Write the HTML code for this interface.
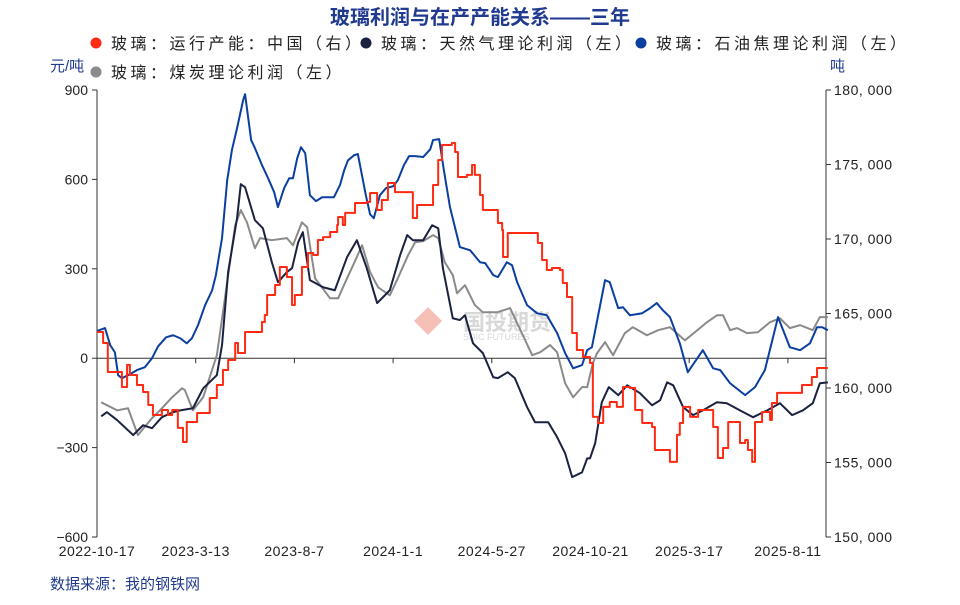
<!DOCTYPE html>
<html><head><meta charset="utf-8"><style>
body{margin:0;background:#fff;width:960px;height:600px;overflow:hidden;font-family:"Liberation Sans","Noto Sans CJK SC",sans-serif}
svg text{font-family:"Liberation Sans","Noto Sans CJK SC",sans-serif}
</style></head><body>
<svg id="c" width="960" height="600"></svg>
<script>
const xTicks=["2022-10-17","2023-3-13","2023-8-7","2024-1-1","2024-5-27","2024-10-21","2025-3-17","2025-8-11"];
const leftTicks=[900,600,300,0,-300,-600];
const rightTicks=[180000,175000,170000,165000,160000,155000,150000];
const oilW=[0,1.7,2.8,3.8,4.5,5.3,7,8.5,10.2,11.7,13,14.7,16.2,17.7,19.1,20.2,21.5,23,24.5,25.3,26.6,27.7,28.7,29.8,31.1,31.5,32.8,33.6,35.1,36.4,37.7,38.5,39.8,40.9,41.7,42.6,43.4,44.3,45.3,46.6,47.9,50.4,51.7,52.6,53.4,54.7,55.5,57.2,58.1,58.9,60.2,61.5,63,64,65.3,66.4,67.7,69.4,70.9,71.5,72.8,73.8,75.1,77.2,79.4,81.5,82.6,84.3,85.3,87.2,88.3,89.4,91.5,93.6,95.7,97.9,99.6,101.3,103.2,104.3,105.3,108.1,109.1,110.9,111.9,113.4,116,117.7,119.1,120.4,121.9,124,125.7,128.9,131.1,132.6,134.7,137.9,140,142.1,144.9,147.4,149.6,151.7,153.2,154.3,155.5];
const oilV=[91,101,44,20,-57,-67,-54,-40,-30,0,40,70,77,67,50,67,111,178,228,279,403,597,698,772,866,886,732,705,648,604,557,507,570,604,604,671,708,688,547,527,540,540,581,631,664,681,685,547,483,470,547,571,577,597,648,678,678,675,701,732,735,631,507,373,362,322,319,279,272,322,312,255,178,151,144,84,17,-34,-23,27,37,262,255,168,171,144,151,168,185,161,138,50,-47,27,-34,-40,-84,-124,-97,-40,138,37,27,50,104,104,94];
const gasW=[0.9,2.1,4.3,7.7,9.8,11.7,13.8,16.2,17.7,20.4,22.6,25.5,26.6,27.9,29.8,30.6,31.5,33.6,35.3,37.2,38.5,40.4,41.5,42.8,43.8,45.3,48.1,50.6,53.2,55.3,57.4,59.6,62.3,64.5,66,67.2,69.4,71.3,72.6,73.6,75.7,77.2,78.3,80,82.1,84.3,85.3,87.4,88.9,91.5,93.2,96,97.9,99.6,101.1,103.2,104.3,104.9,106,107.4,108.9,110.9,112.8,115.5,118.1,119.8,121.3,122.6,124.7,126.8,128.9,131.9,134,136.8,139.6,142.6,145.3,147.9,150.2,152.3,153.8,155.5];
const gasV=[-195,-181,-208,-258,-225,-235,-198,-181,-175,-168,-101,-57,44,289,470,584,574,463,436,322,255,289,302,389,423,262,238,228,339,396,302,185,228,346,413,396,396,446,436,302,134,128,144,50,17,-64,-67,-47,-67,-164,-215,-215,-265,-319,-399,-383,-336,-336,-285,-148,-97,-124,-91,-117,-158,-141,-81,-91,-164,-191,-175,-148,-151,-175,-198,-175,-151,-191,-175,-151,-84,-81];
const coalW=[0.9,4.3,6.6,8.7,11.7,13.4,16,18.1,18.7,20.4,22.6,25.5,27.7,29.4,30.6,31.9,33.6,34.7,37.2,40.4,41.7,43.6,44.7,46.4,49.6,51.3,53.2,54.5,56.4,58.1,59.8,62.3,64,66.2,67.7,69.4,71.5,72.6,74,75.7,76.6,78.3,80.4,82.1,85.1,87.9,90.4,92.6,94.3,96.4,97.9,99.6,101.3,103.2,104.3,105.5,106.4,108.1,109.8,112.3,114,117,119.4,121.9,125.1,127.2,129.8,131.9,133.2,134.7,136.2,138.3,140.6,143.2,145.3,147.4,149.6,152.3,153.8,155.5];
const coalV=[-148,-175,-168,-258,-201,-175,-131,-101,-107,-175,-131,10,255,446,497,456,369,403,396,403,379,456,440,268,201,201,268,312,379,289,238,211,268,346,389,393,413,403,322,279,218,245,178,154,154,168,84,10,20,44,20,-84,-131,-97,-97,-17,17,54,10,84,104,77,94,104,60,87,121,144,144,94,101,84,87,121,134,101,111,94,138,138];
const capW=[0,1.3,2.3,4.5,5.3,6.4,7,8.5,9.8,10.9,11.9,13.8,15.1,16,17.2,18.3,19.1,21.3,23,24,25.5,26.8,27.9,29.4,30,31.5,33.2,35.1,35.7,36.2,37.9,38.9,40.4,41.5,42.1,43.6,44.9,46,47,48.1,49.6,51.1,51.3,52.3,52.8,54.9,57.4,58.1,58.7,59.6,60.6,61.9,62.8,63.4,66.6,67.2,68.1,71.3,71.5,72.6,73.4,75.5,76.2,76.8,78.7,79.8,80.4,81.5,82.1,84.7,85.3,86.2,86.4,87.4,92.8,93.8,94.7,95.7,96.8,98.5,99.1,100,101.1,102.1,103.4,104.9,105.5,106.6,107.7,109.1,110.6,111.9,113.4,114.5,116,118.1,118.7,120.4,121.9,123.4,124,124.7,126.2,127.9,130,131.1,132.1,133.2,134.3,135.7,136.8,137.9,138.5,139.4,140,141.5,143.2,143.6,144.7,149.6,150,151.7,152.1,153.2,155.5];
const capV=[163760,163020,161070,161070,160070,161550,160870,160200,159730,158860,158190,158520,158190,158520,157320,156380,157720,158320,158320,159330,160200,161210,161880,163020,162350,163760,163760,164430,164900,166240,166910,168120,167450,165570,166240,168120,169060,168930,169930,170130,170470,170940,171480,170940,171750,172420,172480,173090,173090,171950,172620,173760,173760,173150,173150,171410,172280,172280,173620,175300,176310,176440,175840,174160,174300,174970,174300,172950,171950,171950,171070,170600,168790,170400,170400,169730,168590,167920,168050,167920,167050,166110,163690,162550,162080,161680,158060,157650,158730,159060,158730,160070,160000,158520,157650,157380,155840,155840,155040,156850,157650,158730,158060,158520,158520,157380,155300,155970,157720,157720,156310,156510,155840,155040,157720,158390,157850,158990,159670,159670,160200,160200,160740,161340,161340];

const NS='http://www.w3.org/2000/svg';
const svg=document.getElementById('c');
const X0=97,X1=826,Y0=90,Y1=537;
const xs=w=>X0+w*4.7;
const yl=v=>Y0+(900-v)/1500*(Y1-Y0);
const yr=v=>Y0+(180000-v)/30000*(Y1-Y0);
function mk(tag,attrs,txt){const e=document.createElementNS(NS,tag);for(const k in attrs)e.setAttribute(k,attrs[k]);if(txt!=null)e.textContent=txt;svg.appendChild(e);return e;}

let t=mk('text',{x:480,y:24,'text-anchor':'middle','font-size':20,'font-weight':'bold',fill:'#1f3a8f'},'玻璃利润与在产产能关系——三年');



const legends=[[96,44,'#ff2a12','玻璃：运行产能：中国（右）'],[366,44,'#1b2140','玻璃：天然气理论利润（左）'],[641,44,'#0a3fa0','玻璃：石油焦理论利润（左）'],[96,73,'#8a8a8a','玻璃：煤炭理论利润（左）']];
legends.forEach(l=>{
  const c=mk('circle',{cx:l[0],cy:l[1]-1,r:5.5,fill:l[2]});
  
  
  const tx=mk('text',{x:l[0]+15,y:l[1]+5,'font-size':16,fill:'#222','letter-spacing':'3.5',style:'font-family:"Noto Sans CJK SC",sans-serif'},l[3]);
  
  
});

t=mk('text',{x:50,y:71,'font-size':15,fill:'#1f3a8f'},'元/吨');


t=mk('text',{x:830,y:71,'font-size':15,fill:'#1f3a8f'},'吨');



let a=mk('line',{x1:X0,y1:Y0,x2:X0,y2:Y1,stroke:'#333','stroke-width':1});


a=mk('line',{x1:X1,y1:Y0,x2:X1,y2:Y1,stroke:'#333','stroke-width':1});


a=mk('line',{x1:X0,y1:yl(0),x2:X1,y2:yl(0),stroke:'#333','stroke-width':1});



leftTicks.forEach(v=>{
  mk('line',{x1:X0-5,y1:yl(v),x2:X0,y2:yl(v),stroke:'#333'});
  const e=mk('text',{x:88,y:yl(v)+5,'text-anchor':'end','font-size':14,fill:'#222'},v===0?'0':String(v).replace('-','−'));
  
  
});
rightTicks.forEach(v=>{
  mk('line',{x1:X1,y1:yr(v),x2:X1+5,y2:yr(v),stroke:'#333'});
  const e=mk('text',{x:834,y:yr(v)+5,'font-size':14,fill:'#222','letter-spacing':'0.5'},v.toLocaleString('en-US').replace(',',', '));
  
  
});
xTicks.forEach((s,i)=>{
  const x=X0+i*21*4.7;
  if(i>0)mk('line',{x1:x,y1:yl(0),x2:x,y2:yl(0)+5,stroke:'#333'});
  const e=mk('text',{x:x,y:556,'text-anchor':'middle','font-size':14,fill:'#222','letter-spacing':'0.5'},s);
  
  
});

// watermark
const wm=mk('text',{x:463,y:330,'font-size':22,fill:'#d8d8d8','font-weight':'bold'},'国投期货');


mk('text',{x:463,y:340,'font-size':9,fill:'#d8d8d8'},'SDIC FUTURES');
mk('path',{d:'M428,307 L442,321 L428,335 L414,321 Z',fill:'#f6c0b6'});

function line(W,V,ys,color,name,step){
  let d='';
  W.forEach((w,i)=>{
    const x=xs(w),y=ys(V[i]);
    if(i===0)d+='M'+x+','+y;
    else if(step)d+='H'+x+'V'+y;
    else d+='L'+x+','+y;
  });
  const p=mk('path',{d:d,fill:'none',stroke:color,'stroke-width':2,'stroke-linejoin':'round'});
  
  
}
line(coalW,coalV,yl,'#8a8a8a','coal-profit-line',false);
line(gasW,gasV,yl,'#1b2140','gas-profit-line',false);
line(oilW,oilV,yl,'#0a3fa0','petcoke-profit-line',false);
line(capW,capV,yr,'#ff2a12','capacity-line',true);

t=mk('text',{x:50,y:589,'font-size':15,fill:'#1f3a8f'},'数据来源：我的钢铁网');


</script>
</body></html>
